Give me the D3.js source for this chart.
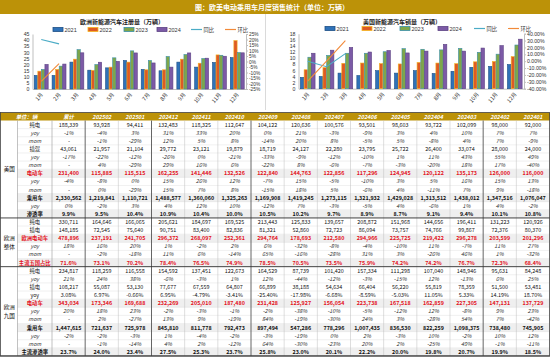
<!DOCTYPE html>
<html><head><meta charset="utf-8">
<script src="https://cdn.jsdelivr.net/npm/d3@7"></script>
<style>
body{margin:0;background:#fff}
svg{display:block}
text{font-family:"Noto Sans CJK SC","Microsoft YaHei","DejaVu Sans",sans-serif}
</style>
</head><body>
<svg id="c" width="550" height="358"></svg>
<script>
// ---------- chart data ----------
const months = ["1月","2月","3月","4月","5月","6月","7月","8月","9月","10月","11月","12月"];
const years = ["2021","2022","2023","2024"];
const euro2021 = [11.1,11.1,22.0,15.4,17.3,23.3,16.0,14.9,22.0,17.9,21.7,25.7];
const euro2022 = [14.6,16.0,24.4,15.2,17.9,22.0,15.7,15.7,24.4,21.1,27.9,39.6];
const euro2023 = [16.0,18.7,32.2,20.0,25.5,31.2,23.3,26.6,28.2,24.9,27.6,29.8];
const euro2024 = [20.1,20.4,29.6,21.9,22.6,29.5,21.3,17.9,29.5,25.2,26.8,29.6];
const euroYoy = [20,16];
const euroMom = [-18,-2];
const us2021 = [3.7,4.0,5.1,4.3,5.9,5.1,5.9,5.0,5.7,7.0,7.3,7.9];
const us2022 = [6.2,6.9,8.3,8.4,8.2,8.1,8.6,8.4,8.2,8.8,8.9,10.5];
const us2023 = [10.3,10.9,11.6,11.6,12.1,13.1,12.9,12.7,13.2,11.9,11.3,14.3];
const us2024 = [11.6,12.6,13.5,12.0,12.5,11.7,12.3,14.5,12.3,13.3,14.1,16.2];
const usYoy = [0,-8,11];
const usMom = [-29,0,30];
const euroTicks = [0,5,10,15,20,25,30,35,40,45];
const euroPctTicks = [-25,-20,-15,-10,-5,0,5,10,15,20,25];
const usTicks = [0,2,4,6,8,10,12,14,16,18];
const usPctTicks = [-40,-30,-20,-10,0,10,20,30,40];

// ---------- table data ----------
const tableCols = ["累计","202502","202501","202412","202411","202410","202409","202408","202407","202406","202405","202404","202403","202402","202401"];
const usBev = [188339,93928,94411,132483,118325,112647,104122,120636,100576,93501,98603,93722,102099,98000,92000];
const usBevYoy = [-1,-4,3,31,33,20,0,21,-3,-9,3,4,10,7,7];
const usBevMom = [null,-1,-29,12,5,8,-14,20,8,-5,5,-8,4,7,-9];
const usPhev = [43061,21957,21104,29772,23121,19879,18719,24127,22280,23795,25722,26400,33074,28000,24000];
const usPhevYoy = [-17,-22,-12,-26,0,-21,-33,-9,-12,-10,1,11,43,55,49];
const usPhevMom = [null,4,-29,29,16,6,-22,8,-6,-7,-3,-20,18,17,-40];
const usEv = [231400,115885,115515,162255,141446,132526,122840,144763,122856,117296,124945,120122,135173,126000,116000];
const usEvYoy = [-4,-8,0,15,26,12,-7,15,-5,-10,3,5,16,15,13];
const usEvMom = [null,0,-29,15,7,8,-15,18,5,-6,4,-11,7,9,-18];
const usPv = [2330562,1219841,1110721,1488577,1360060,1325263,1169908,1419245,1273115,1321932,1429028,1313512,1438012,1347516,1076047];
const usPvYoy = [0,-2,3,4,12,10,-12,7,-3,-5,4,-6,1,4,-2];
const usPen = [9.9,9.5,10.4,10.9,10.4,10.0,10.5,10.2,9.7,8.9,8.7,9.1,9.4,10.1,10.8];
const euBev = [330711,164646,166065,205621,184697,169525,213443,125833,139657,208872,151968,144656,196411,131223,120926];
const euPhev = [148185,72545,75640,90751,83400,82836,81321,52860,72723,86094,73757,74766,99867,72376,80370];
const euEv = [478896,237191,241705,296372,268097,252361,294764,178693,212580,294966,225725,219422,296278,203599,201296];
const euEvYoy = [18,16,20,1,-2,2,6,-32,-8,-4,-10,11,-7,11,27];
const euEvMom = [null,-2,-18,11,6,-14,65,-16,-28,31,3,-26,46,1,-32];
const euTop5 = [71.6,73.1,70.2,78.4,76.5,74.9,78.5,70.5,73.5,75.9,74.2,74.2,76.7,72.3,68.4];
const n9Bev = [234817,118259,116558,154592,137451,122673,164529,87739,101420,157334,111298,107040,148946,95631,84248];
const n9BevYoy = [21,24,38,-6,-3,1,12,-44,-12,-3,-15,12,-13,6,25];
const n9Phev = [108217,55087,53130,77677,67559,64807,66899,38188,54634,66404,56220,55819,78359,51500,53481];
const n9PhevYoy = [3.08,6.97,-0.66,6.95,-4.79,-3.41,-25.40,-17.98,-6.68,-8.59,-5.03,11.05,5.33,14.19,18.70];
const n9Ev = [343034,173346,169688,232269,205010,187480,231428,125927,156054,223738,167518,162859,227305,147131,137729];
const n9EvYoy = [20,18,23,-2,-3,-1,-2,-38,-10,-5,-12,12,-8,9,23];
const n9EvMom = [null,2,-27,13,9,-19,84,-19,-30,24,3,-28,54,7,-42];
const n9Pv = [1447615,721637,725978,845810,811778,792473,897494,547286,778296,1007435,836530,822259,1098375,738480,745905];
const n9PvYoy = [-2,-2,-3,1,-4,-2,-3,-19,0,2,-3,10,-2,10,12];
const n9PvMom = [null,-1,-14,4,2,-12,64,-30,-23,20,2,-25,49,-1,-11];
const n9Pen = [23.7,24.0,23.4,27.5,25.3,23.7,25.8,23.0,20.1,22.2,20.0,19.8,20.7,19.9,18.5];

// ---------- drawing ----------
const svg = d3.select("#c");
const GOLD = "#bc9208";
const NUMF = '"Liberation Sans",Arial,sans-serif';
const yearColors = [
  {fill:"#2f72b8", stroke:"#1d4f86"},
  {fill:"#de5a24", stroke:"#f5b41f"},
  {fill:"#7fa64a", stroke:"#3a8fa8"},
  {fill:"#7c5aa6", stroke:"#5d4284"}
];
const YOYC = "#4bacc6", MOMC = "#f28a3a";

svg.append("rect").attr("x",0).attr("y",0).attr("width",550).attr("height",14).attr("fill",GOLD);
svg.append("text").attr("x",272).attr("y",10).attr("text-anchor","middle")
  .attr("fill","#fff").attr("font-size",7).attr("font-weight","bold")
  .text("图：欧美电动乘用车月度销售统计（单位：万辆）");
svg.append("line").attr("x1",265.5).attr("x2",265.5).attr("y1",14).attr("y2",110).attr("stroke","#d0d0d0").attr("stroke-width",0.8);

function drawChart(o){
  const g = svg.append("g");
  const x = d3.scaleBand().domain(months).range([o.x0,o.x1]).paddingInner(0.22).paddingOuter(0.1);
  const xi = d3.scaleBand().domain(years).range([0,x.bandwidth()]).paddingInner(0.08);
  const y = d3.scaleLinear().domain([0,o.yMax]).range([o.yBot,o.yTop]);
  const y2 = d3.scaleLinear().domain([o.pMin,o.pMax]).range([o.yBot,o.yTop]);
  // title
  g.append("text").attr("x",o.titleX).attr("y",23.5).attr("text-anchor","middle")
    .attr("font-size",6).attr("font-weight","bold").attr("fill","#222").text(o.title);
  // legend
  o.series.forEach((s,i)=>{
    const lx = o.legX[i];
    g.append("rect").attr("x",lx).attr("y",o.legY-2).attr("width",10).attr("height",4)
      .attr("fill",yearColors[i].fill).attr("stroke",yearColors[i].stroke).attr("stroke-width",0.8);
    g.append("text").attr("x",lx+11.5).attr("y",o.legY+2).attr("font-size",5.5).attr("fill","#333")
      .style("font-family",NUMF).text(years[i]);
  });
  [["同比",YOYC],["环比",MOMC]].forEach((l,i)=>{
    const lx = o.legX[4+i];
    g.append("line").attr("x1",lx).attr("x2",lx+11).attr("y1",o.legY).attr("y2",o.legY).attr("stroke",l[1]).attr("stroke-width",1.2);
    g.append("text").attr("x",lx+12.5).attr("y",o.legY+2).attr("font-size",5.3).attr("fill","#333").text(l[0]);
  });
  // axes
  const ya = g.append("g").attr("transform",`translate(${o.x0},0)`)
    .call(d3.axisLeft(y).tickValues(o.ticks).tickSize(0).tickPadding(3).tickFormat(d3.format("d")));
  ya.select(".domain").attr("stroke","#bfbfbf");
  const yb = g.append("g").attr("transform",`translate(${o.x1},0)`)
    .call(d3.axisRight(y2).tickValues(o.pTicks).tickSize(2).tickPadding(1).tickFormat(o.pFmt));
  yb.select(".domain").attr("stroke","#bfbfbf");
  yb.selectAll(".tick line").attr("stroke","#bfbfbf");
  ya.selectAll("text").attr("font-size",o.lfs).attr("fill","#333").style("font-family",NUMF);
  yb.selectAll("text").attr("font-size",o.rfs).attr("fill","#333").style("font-family",NUMF);
  const xa = g.append("g").attr("transform",`translate(0,${o.yBot})`)
    .call(d3.axisBottom(x).tickSize(0).tickPadding(0));
  xa.select(".domain").attr("stroke","#bfbfbf");
  xa.selectAll("text").attr("font-size",5.4).attr("fill","#333")
    .attr("text-anchor","end").attr("transform","translate(0,4) rotate(-50)").attr("dy","0.5em")
    .style("font-family",'"Noto Sans CJK SC",sans-serif');
  // bars
  o.series.forEach((s,i)=>{
    g.append("g").selectAll("rect").data(s).join("rect")
      .attr("x",(d,j)=>x(months[j])+xi(years[i]))
      .attr("y",d=>y(d)).attr("width",xi.bandwidth()).attr("height",d=>o.yBot-y(d))
      .attr("fill",yearColors[i].fill).attr("stroke",yearColors[i].stroke).attr("stroke-width",0.6);
  });
  // lines
  const line = d3.line().x((d,j)=>x(months[j])+x.bandwidth()/2).y(d=>y2(d));
  g.append("path").datum(o.yoy).attr("d",line).attr("fill","none").attr("stroke",YOYC).attr("stroke-width",1.1);
  g.append("path").datum(o.mom).attr("d",line).attr("fill","none").attr("stroke",MOMC).attr("stroke-width",1.1);
}

drawChart({x0:32.5,x1:246,yTop:34,yBot:89,yMax:45,ticks:euroTicks,pMin:-25,pMax:25,pTicks:euroPctTicks,
  pFmt:d=>d+"%",title:"欧洲新能源汽车注册量（万辆）",titleX:122,legY:29.5,lfs:5.2,rfs:4.8,
  legX:[53,88,124,157,191,225],series:[euro2021,euro2022,euro2023,euro2024],yoy:euroYoy,mom:euroMom});
drawChart({x0:298.5,x1:524,yTop:33.7,yBot:88.7,yMax:18,ticks:usTicks,pMin:-40,pMax:40,pTicks:usPctTicks,
  pFmt:d=>d.toFixed(2)+"%",title:"美国新能源汽车销量（万辆）",titleX:402,legY:28.5,lfs:5.2,rfs:5.2,
  legX:[325,362,400,438,474,508],series:[us2021,us2022,us2023,us2024],yoy:usYoy,mom:usMom});

// ---------- table ----------
const fmtN = d3.format(",");
const P = v => v==null ? "-" : v+"%";
const P1 = v => v.toFixed(1)+"%";
const P2 = v => v.toFixed(2)+"%";
const N = v => fmtN(v);
const rows = [
  ["纯电",usBev,N,"n"],["yoy",usBevYoy,P,"i"],["mom",usBevMom,P,"i"],
  ["插混",usPhev,N,"n"],["yoy",usPhevYoy,P,"i"],["mom",usPhevMom,P,"i"],
  ["电动车",usEv,N,"r"],["yoy",usEvYoy,P,"i"],["mom",usEvMom,P,"i"],
  ["乘用车",usPv,N,"b"],["yoy",usPvYoy,P,"i"],["渗透率",usPen,P1,"b"],
  ["纯电",euBev,N,"n"],["插电",euPhev,N,"n"],["欧洲电动车",euEv,N,"r"],
  ["yoy",euEvYoy,P,"i"],["mom",euEvMom,P,"i"],["主流五国占比",euTop5,P1,"r"],
  ["纯电",n9Bev,N,"n"],["yoy",n9BevYoy,P,"i"],["插电",n9Phev,N,"n"],["yoy",n9PhevYoy,P2,"n"],
  ["电动车",n9Ev,N,"r"],["yoy",n9EvYoy,P,"i"],["mom",n9EvMom,P,"i"],
  ["乘用车",n9Pv,N,"b"],["yoy",n9PvYoy,P,"i"],["mom",n9PvMom,P,"i"],["主流渗透率",n9Pen,P1,"b"]
];
const groups = [{name:["美国"],s:0,n:12},{name:["欧洲","整体"],s:12,n:6},{name:["欧洲","九国"],s:18,n:11}];
const T0 = 112.5, HH = 8, RH = 8.12, L0 = 1, L1 = 17.5, L2 = 52, R = 549.5;
const CW = (R-L2)/tableCols.length;
const tg = svg.append("g");
tg.append("rect").attr("x",0).attr("y",T0).attr("width",550).attr("height",HH).attr("fill",GOLD);
tg.append("text").attr("x",(L0+L2)/2).attr("y",T0+HH/2+2).attr("text-anchor","middle").attr("font-size",5.4)
  .attr("font-weight","bold").attr("font-style","italic").attr("fill","#fff").text("单位：辆");
tableCols.forEach((c,i)=>{
  tg.append("text").attr("x",L2+CW*(i+0.5)).attr("y",T0+HH/2+2).attr("text-anchor","middle").attr("font-size",5.4)
   .attr("font-weight","bold").attr("font-style","italic").attr("fill","#fff").text(c);
});
const ry = i => T0+HH+i*RH;
const RED = "#e3121c";
rows.forEach((r,i)=>{
  const [label,vals,f,t] = r;
  const y0 = ry(i);
  if(t==="r"||t==="b") tg.append("rect").attr("x",L1).attr("y",y0).attr("width",R-L1).attr("height",RH).attr("fill","#efefef");
  const col = t==="r"?RED:(t==="i"?"#333":"#111");
  const fw = (t==="r"||t==="b")?"bold":"normal";
  const fs = t==="i"?"italic":"normal";
  tg.append("text").attr("x",(L1+L2)/2).attr("y",y0+RH/2+2).attr("text-anchor","middle").attr("font-size",5.3)
    .attr("fill",col).attr("font-weight",fw).attr("font-style",fs).text(label);
  vals.forEach((v,j)=>{
    tg.append("text").attr("x",L2+CW*(j+0.5)).attr("y",y0+RH/2+2).attr("text-anchor","middle").attr("font-size",5.4)
      .attr("fill",col).attr("font-weight",fw).attr("font-style",fs).text(f(v));
  });
  tg.append("line").attr("x1",L1).attr("x2",R).attr("y1",y0+RH).attr("y2",y0+RH).attr("stroke","#d9d9d9").attr("stroke-width",0.4);
});
// vertical lines
const thick = new Set([1,3,6,13]);
tableCols.forEach((c,i)=>{
  if(i===tableCols.length-1) return;
  const xx = L2+CW*(i+1);
  tg.append("line").attr("x1",xx).attr("x2",xx).attr("y1",T0+HH).attr("y2",ry(rows.length))
    .attr("stroke",thick.has(i+1)?"#555":"#bdbdbd").attr("stroke-width",thick.has(i+1)?0.9:0.5);
});
[L1,L2].forEach(xx=>tg.append("line").attr("x1",xx).attr("x2",xx).attr("y1",T0+HH).attr("y2",ry(rows.length)).attr("stroke","#999").attr("stroke-width",0.6));
// groups
groups.forEach((gr,k)=>{
  const yTop = ry(gr.s), yBot = ry(gr.s+gr.n), cy = (yTop+yBot)/2;
  gr.name.forEach((nm,q)=>{
    tg.append("text").attr("x",(L0+L1)/2).attr("y",cy+2+(q-(gr.name.length-1)/2)*8.8).attr("text-anchor","middle")
      .attr("font-size",5.6).attr("fill","#111").text(nm);
  });
  tg.append("line").attr("x1",0).attr("x2",550).attr("y1",yBot).attr("y2",yBot).attr("stroke","#333").attr("stroke-width",k<2?0.9:1);
});
tg.append("rect").attr("x",0.5).attr("y",T0).attr("width",549).attr("height",ry(rows.length)-T0).attr("fill","none").attr("stroke","#444").attr("stroke-width",0.8);
</script>
</body></html>
